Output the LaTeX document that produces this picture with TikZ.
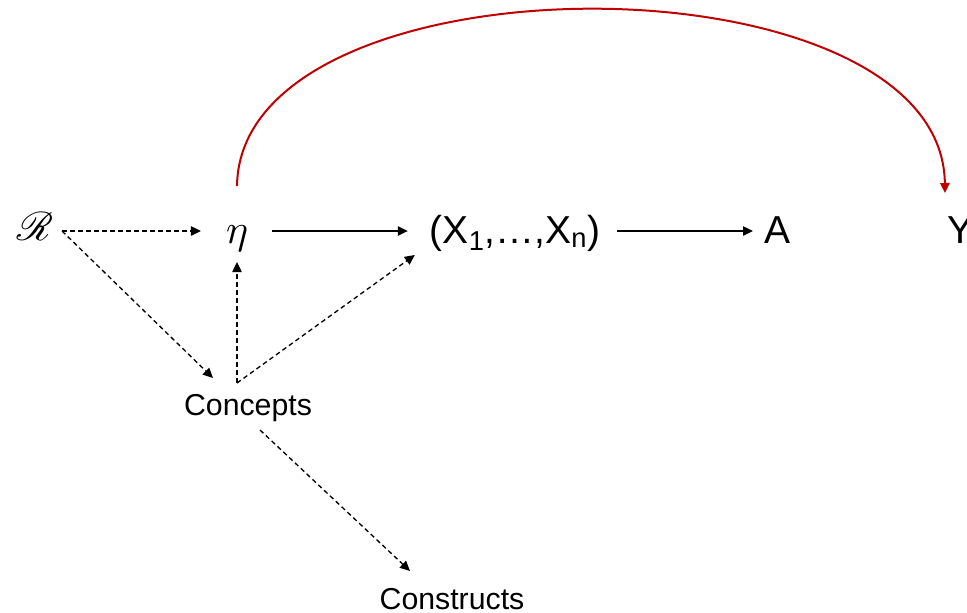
\documentclass[tikz,border=0pt]{standalone}
\usepackage{graphicx}
\usepackage{fontspec}
\setmainfont{Liberation Sans}
\usepackage{mathrsfs}
\usetikzlibrary{arrows.meta,calc}
\definecolor{arcred}{HTML}{C00000}
\begin{document}
\begin{tikzpicture}[x=0.75pt,y=-0.75pt,
  big/.style={inner sep=0pt,outer sep=0pt,anchor=base,font=\fontsize{29.25}{35}\selectfont,text height=22.5pt,text depth=4.5pt},
  etanode/.style={inner sep=0pt,outer sep=0pt,anchor=base,text height=22.5pt,text depth=4.5pt},
  rnode/.style={inner sep=0pt,outer sep=0pt,anchor=base,text height=20.25pt,text depth=6.75pt,minimum width=40.5pt},
  small/.style={inner sep=0pt,outer sep=0pt,anchor=base,font=\fontsize{22.7}{27}\selectfont,text height=16.5pt,text depth=4.5pt},
  tip/.style={-{Triangle[length=7.5pt,width=7pt]}},
  sol/.style={tip,line width=1pt,black},
  dsh/.style={tip,line width=1pt,black,dash pattern=on 3.5pt off 2.5pt},
  arc/.style={-{Triangle[length=7.5pt,width=7pt]},line width=1.5pt,arcred}]
\useasboundingbox (0,0) rectangle (967,612);
\node[rnode] (R) at (35,240) {\scalebox{3.0}{$\mathscr{R}$}};
\node[etanode] (eta) at (237,243) {\scalebox{3.1}{$\eta$}};
\node[big] (X) at (515,243) {(X\textsubscript{1},…,X\textsubscript{n})};
\node[big] (A) at (777,243) {A};
\node[big] (Y) at (960,243) {Y};
\node[small] (C) at (248,415) {Concepts};
\node[small] (K) at (452,609) {Constructs};
% dashed
\draw[dsh] (R.east) -- ($(eta.west)+(-25,0)$);
\draw[dsh] (R.east) -- ($(C.north)+(-35,-15)$);
\draw[dsh] ($(C.north)+(-11,-10)$) -- ($(eta.south)+(0,13)$);
\draw[dsh] ($(C.north)+(-11,-10)$) -- ($(X.west)+(-15,24)$);
\draw[dsh] ($(C.south)+(12,9)$) -- ($(K.north)+(-42,-16)$);
% solid
\draw[sol] ($(eta.east)+(24,0)$) -- ($(X.west)+(-22,0)$);
\draw[sol] ($(X.east)+(17,0)$) -- ($(A.west)+(-11,0)$);
% red arc
\draw[arc] ($(eta.north)+(0,-27)$) .. controls (240,-50) and (942,-50) .. ($(Y.north)+(-15,-20)$);
\end{tikzpicture}
\end{document}
